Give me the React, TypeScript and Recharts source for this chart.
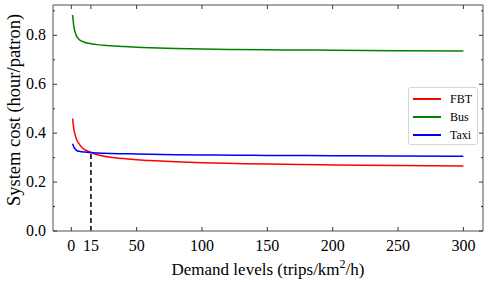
import {
  LineChart,
  Line,
  XAxis,
  YAxis,
  ReferenceLine,
  Label,
} from "recharts";

const demand = [1, 2, 3, 4, 5, 6, 8, 10, 12, 15, 20, 25, 30, 40, 50, 60, 80, 100, 125, 150, 175, 200, 250, 300];
const fbt = [0.46, 0.415, 0.392, 0.375, 0.364, 0.356, 0.342, 0.334, 0.328, 0.321, 0.312, 0.306, 0.302, 0.296, 0.291, 0.288, 0.283, 0.279, 0.276, 0.274, 0.272, 0.27, 0.268, 0.266];
const bus = [0.883, 0.835, 0.812, 0.798, 0.789, 0.783, 0.776, 0.772, 0.769, 0.766, 0.762, 0.759, 0.757, 0.754, 0.751, 0.749, 0.746, 0.744, 0.742, 0.741, 0.74, 0.739, 0.737, 0.736];
const taxi = [0.357, 0.343, 0.335, 0.33, 0.327, 0.326, 0.324, 0.323, 0.322, 0.321, 0.319, 0.318, 0.317, 0.316, 0.315, 0.314, 0.312, 0.311, 0.31, 0.309, 0.309, 0.308, 0.307, 0.306];

const xTicks = [0, 15, 50, 100, 150, 200, 250, 300];
const yTicks = [0, 0.1, 0.2, 0.3, 0.4, 0.5, 0.6, 0.7, 0.8, 0.9];
const majorY = [0, 0.2, 0.4, 0.6, 0.8];
const crossing = 15;
const crossingCost = 0.322;

const series = [
  { key: "fbt", name: "FBT", color: "#ff0000" },
  { key: "bus", name: "Bus", color: "#008000" },
  { key: "taxi", name: "Taxi", color: "#0000ff" },
];

const data = demand.map((d, i) => ({ demand: d, fbt: fbt[i], bus: bus[i], taxi: taxi[i] }));

const FONT = "'Liberation Serif', 'Times New Roman', serif";
const AXIS = "#8a8a8a";

const isMajor = (v: number) => majorY.some((m) => Math.abs(m - v) < 1e-6);

function BottomTick({ x, y, payload }: any) {
  return (
    <g>
      <line x1={x} x2={x} y1={y} y2={y - 4} stroke="#333" strokeWidth={1} />
      <text x={x} y={y + 20} textAnchor="middle" fontFamily={FONT} fontSize={16} fill="#000">
        {payload.value}
      </text>
    </g>
  );
}

function TopTick({ x, y }: any) {
  return <line x1={x} x2={x} y1={y} y2={y + 4} stroke="#333" strokeWidth={1} />;
}

function LeftTick({ x, y, payload }: any) {
  const major = isMajor(payload.value);
  return (
    <g>
      <line x1={x} x2={x + (major ? 4 : 2)} y1={y} y2={y} stroke="#333" strokeWidth={1} />
      {major && (
        <text x={x - 7} y={y + 5} textAnchor="end" fontFamily={FONT} fontSize={16} fill="#000">
          {payload.value.toFixed(1)}
        </text>
      )}
    </g>
  );
}

function RightTick({ x, y, payload }: any) {
  const major = isMajor(payload.value);
  return <line x1={x} x2={x - (major ? 4 : 2)} y1={y} y2={y} stroke="#333" strokeWidth={1} />;
}

function LegendBox() {
  return (
    <div
      style={{
        position: "absolute",
        left: 408,
        top: 87,
        width: 70,
        height: 58,
        border: "1px solid #d6d6d6",
        borderRadius: 3,
        background: "#fff",
        boxSizing: "border-box",
        paddingTop: 2,
      }}
    >
      {series.map((s) => (
        <div key={s.key} style={{ display: "flex", alignItems: "center", height: 18 }}>
          <div style={{ width: 28, height: 0, borderTop: `2px solid ${s.color}`, marginLeft: 4 }} />
          <span style={{ marginLeft: 9, fontFamily: FONT, fontSize: 12, color: "#000" }}>{s.name}</span>
        </div>
      ))}
    </div>
  );
}

export default function App() {
  return (
    <div style={{ position: "absolute", left: 0, top: 0, width: 490, height: 282, background: "#fff" }}>
      <LineChart
        width={490}
        height={282}
        data={data}
        margin={{ top: 4, right: 6, bottom: 50, left: 52 }}
      >
        <XAxis
          dataKey="demand"
          type="number"
          domain={[-14, 315]}
          ticks={xTicks}
          allowDataOverflow
          height={1}
          tickSize={0}
          tickMargin={0}
          tickLine={false}
          tick={<BottomTick />}
          axisLine={{ stroke: AXIS, strokeWidth: 1.5 }}
        >
          <Label
            content={({ viewBox }: any) => (
              <text
                x={viewBox.x + viewBox.width / 2}
                y={275}
                textAnchor="middle"
                fontFamily={FONT}
                fontSize={17}
                fill="#000"
              >
                Demand levels (trips/km
                <tspan dy={-7} fontSize={12}>2</tspan>
                <tspan dy={7}>/h)</tspan>
              </text>
            )}
          />
        </XAxis>
        <XAxis
          xAxisId="top"
          orientation="top"
          dataKey="demand"
          type="number"
          domain={[-14, 315]}
          ticks={xTicks}
          allowDataOverflow
          height={1}
          tickSize={0}
          tickMargin={0}
          tickLine={false}
          tick={<TopTick />}
          axisLine={{ stroke: AXIS, strokeWidth: 1.5 }}
        />
        <YAxis
          type="number"
          domain={[0, 0.924]}
          ticks={yTicks}
          allowDataOverflow
          width={1}
          tickSize={0}
          tickMargin={0}
          tickLine={false}
          tick={<LeftTick />}
          axisLine={{ stroke: AXIS, strokeWidth: 1.5 }}
        >
          <Label
            content={() => (
              <text
                transform="translate(20, 110) rotate(-90)"
                textAnchor="middle"
                fontFamily={FONT}
                fontSize={18.5}
                fill="#000"
              >
                System cost (hour/patron)
              </text>
            )}
          />
        </YAxis>
        <YAxis
          yAxisId="right"
          orientation="right"
          type="number"
          domain={[0, 0.924]}
          ticks={yTicks}
          allowDataOverflow
          width={1}
          tickSize={0}
          tickMargin={0}
          tickLine={false}
          tick={<RightTick />}
          axisLine={{ stroke: AXIS, strokeWidth: 1.5 }}
        />
        <ReferenceLine
          segment={[
            { x: crossing, y: 0 },
            { x: crossing, y: crossingCost },
          ]}
          stroke="#000"
          strokeWidth={1.5}
          strokeDasharray="5 3"
        />
        {series.map((s) => (
          <Line
            key={s.key}
            dataKey={s.key}
            name={s.name}
            type="monotone"
            stroke={s.color}
            strokeWidth={1.5}
            dot={false}
            isAnimationActive={false}
          />
        ))}
      </LineChart>
      <LegendBox />
    </div>
  );
}
